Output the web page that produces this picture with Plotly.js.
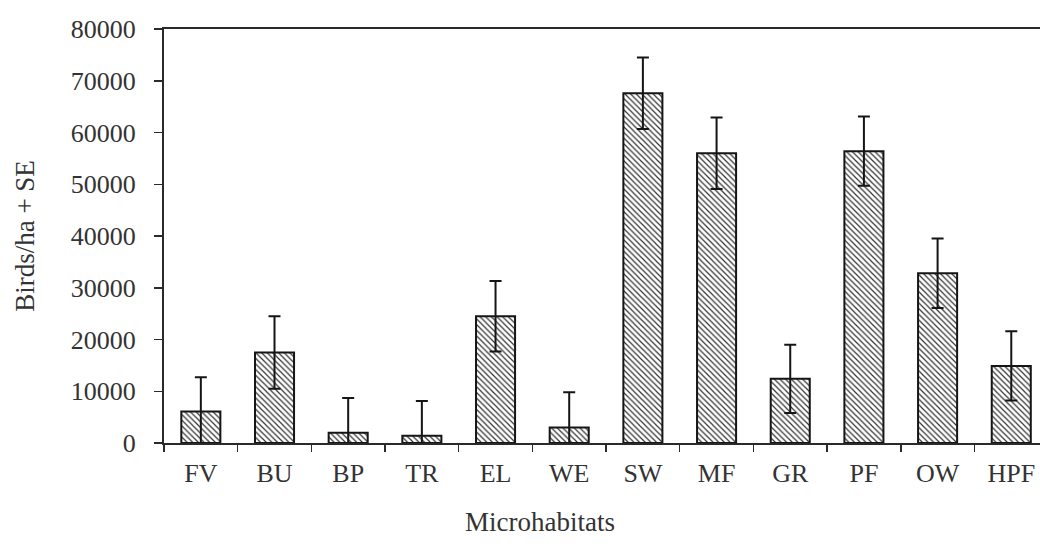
<!DOCTYPE html>
<html>
<head>
<meta charset="utf-8">
<script src="https://cdn.plot.ly/plotly-3.0.1.min.js"></script>
<style>
  html, body { margin: 0; padding: 0; background: #fff; overflow: hidden; }
  #chart { width: 1040px; height: 546px; }
</style>
</head>
<body>
<div id="chart"></div>
<script>
// Bird density per microhabitat, mean with standard error
const microhabitats = ["FV", "BU", "BP", "TR", "EL", "WE", "SW", "MF", "GR", "PF", "OW", "HPF"];
const birdsPerHa   = [6100, 17500, 2000, 1400, 24500, 3000, 67600, 56000, 12400, 56400, 32800, 14900];
const standardError = [6600, 7000, 6700, 6700, 6800, 6800, 6900, 6900, 6600, 6700, 6700, 6700];
const yTickValues = [0, 10000, 20000, 30000, 40000, 50000, 60000, 70000, 80000];

const ink = "#2a2a2a";
const textInk = "#333333";
const serif = "Liberation Serif, Times New Roman, serif";

const trace = {
  type: "bar",
  x: microhabitats,
  y: birdsPerHa,
  marker: {
    color: "#ffffff",
    line: { color: "#151515", width: 2 },
    pattern: { shape: "\\", size: 4, solidity: 0.3, fgcolor: "#333333", bgcolor: "#ffffff" }
  },
  error_y: {
    type: "data",
    array: standardError,
    visible: true,
    color: "#151515",
    thickness: 2,
    width: 6
  },
  hoverinfo: "x+y"
};

const layout = {
  width: 1040,
  height: 546,
  margin: { l: 164, r: 0, t: 28.5, b: 102.5 },
  paper_bgcolor: "#ffffff",
  plot_bgcolor: "#ffffff",
  showlegend: false,
  bargap: 0.47,
  font: { family: serif, color: textInk, size: 26 },
  xaxis: {
    type: "category",
    range: [-0.5, 11.39],
    tickson: "boundaries",
    ticks: "outside",
    ticklen: 7,
    tickwidth: 1.5,
    tickcolor: ink,
    showline: true,
    linecolor: ink,
    linewidth: 2,
    mirror: true,
    showgrid: false,
    zeroline: false,
    ticklabelstandoff: 6,
    tickfont: { family: serif, size: 26, color: textInk }
  },
  yaxis: {
    range: [0, 80000],
    tickvals: yTickValues,
    ticktext: yTickValues.map(String),
    ticks: "outside",
    ticklen: 8,
    tickwidth: 1.5,
    tickcolor: ink,
    showline: true,
    linecolor: ink,
    linewidth: 2,
    showgrid: false,
    zeroline: false,
    ticklabelstandoff: 13,
    tickfont: { family: serif, size: 26, color: textInk },
    title: { text: "Birds/ha + SE", font: { family: serif, size: 27, color: textInk }, standoff: 28 }
  },
  annotations: [{
    text: "Microhabitats",
    xref: "paper", yref: "paper",
    x: (540 - 164) / 876, y: -0.19,
    xanchor: "center", yanchor: "middle",
    showarrow: false,
    font: { family: serif, size: 27, color: textInk }
  }]
};

Plotly.newPlot("chart", [trace], layout, { displayModeBar: false, staticPlot: true });
</script>
</body>
</html>
